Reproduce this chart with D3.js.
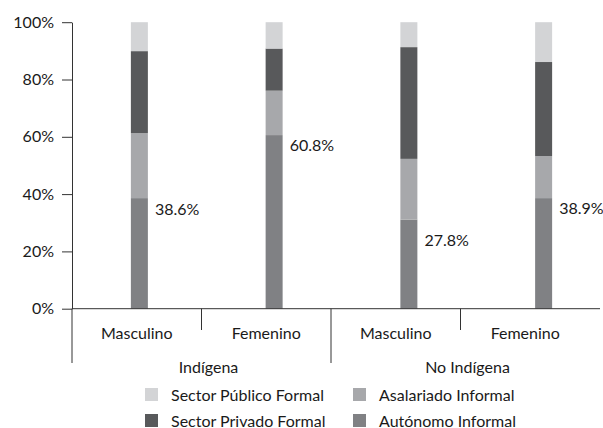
<!DOCTYPE html>
<html>
<head>
<meta charset="utf-8">
<script src="https://cdn.jsdelivr.net/npm/d3@7"></script>
<style>
  body { margin: 0; background: #fff; }
  text { font-family: Lato, "Noto Sans", sans-serif; fill: #1a1a1a; }
</style>
</head>
<body>
<div id="chart"></div>
<script>
// data (percent)
const groups = ["Indígena", "No Indígena"];
const sexes = ["Masculino", "Femenino"];
const autonomo   = [38.6, 60.6, 31.1, 38.6];
const asalariado = [22.7, 15.5, 21.2, 14.7];
const privado    = [28.6, 14.7, 39.0, 32.8];
const publico    = [10.1,  9.2,  8.7, 13.9];
const barLabels  = [38.6, 60.8, 27.8, 38.9];
const yTicks = [0, 20, 40, 60, 80, 100];

const seriesNames = ["Autónomo Informal", "Asalariado Informal", "Sector Privado Formal", "Sector Público Formal"];
const seriesKeys = ["autonomo", "asalariado", "privado", "publico"];
const colors = ["#808184", "#a7a8ab", "#58595b", "#d3d4d6"];

const width = 603, height = 428;
const fs = "16px";

// one row per bar
const rows = [];
groups.forEach((g, gi) => sexes.forEach((s, si) => {
  const i = gi * sexes.length + si;
  rows.push({ id: g + "|" + s, group: g, sex: s,
    autonomo: autonomo[i], asalariado: asalariado[i], privado: privado[i], publico: publico[i],
    label: barLabels[i] });
}));
const ids = rows.map(d => d.id);

const svg = d3.select("#chart").append("svg")
  .attr("width", width)
  .attr("height", height);

const y = d3.scaleLinear().domain([0, 100]).range([308.7, 22.2]);

// bars sit on a wider band than the category labels (plot runs off the right edge)
const xBar = d3.scaleBand().domain(ids).range([72, 611]);
const xLab = d3.scaleBand().domain(ids).range([72, 590]);
const xGroup = d3.scaleBand().domain(groups).range([72, 590]);

const color = d3.scaleOrdinal().domain(seriesKeys).range(colors);
const stack = d3.stack().keys(seriesKeys)(rows);

const barW = 17;

svg.append("g")
  .selectAll("g")
  .data(stack)
  .join("g")
    .attr("fill", d => color(d.key))
  .selectAll("rect")
  .data(d => d)
  .join("rect")
    .attr("x", d => xBar(d.data.id) + xBar.bandwidth() / 2 - barW / 2)
    .attr("y", d => y(d[1]))
    .attr("width", barW)
    .attr("height", d => y(d[0]) - y(d[1]));

// value labels
svg.append("g")
  .selectAll("text")
  .data(rows)
  .join("text")
    .attr("x", d => xBar(d.id) + xBar.bandwidth() / 2 + barW / 2 + 7)
    .attr("y", d => y(d.label) + 11)
    .attr("dy", "0.35em")
    .style("font-size", fs)
    .text(d => d.label.toFixed(1) + "%");

// y axis
const yAxis = svg.append("g")
  .attr("transform", "translate(72,0)")
  .call(d3.axisLeft(y).tickValues(yTicks).tickSize(10).tickSizeOuter(0).tickPadding(8)
    .tickFormat(d => d + "%"));
yAxis.select(".domain").attr("stroke", "#333");
yAxis.selectAll(".tick line").attr("stroke", "#333");
yAxis.selectAll("text").style("font-size", fs).attr("fill", "#1a1a1a");

// x axis baseline
svg.append("line")
  .attr("x1", 72).attr("x2", 600)
  .attr("y1", y(0)).attr("y2", y(0))
  .attr("stroke", "#333");

// short dividers between sexes, long ones between groups
const shortDiv = groups.map(g => xGroup(g) + xGroup.bandwidth() / 2);
const longDiv = groups.map(g => xGroup(g));

svg.append("g").selectAll("line")
  .data(shortDiv)
  .join("line")
    .attr("x1", d => d).attr("x2", d => d)
    .attr("y1", y(0)).attr("y2", 330)
    .attr("stroke", "#333");

svg.append("g").selectAll("line")
  .data(longDiv)
  .join("line")
    .attr("x1", d => d).attr("x2", d => d)
    .attr("y1", y(0)).attr("y2", 363)
    .attr("stroke", "#333");

// category labels
svg.append("g").selectAll("text")
  .data(rows)
  .join("text")
    .attr("x", d => xLab(d.id) + xLab.bandwidth() / 2)
    .attr("y", 333)
    .attr("dy", "0.35em")
    .attr("text-anchor", "middle")
    .style("font-size", fs)
    .text(d => d.sex);

svg.append("g").selectAll("text")
  .data(groups)
  .join("text")
    .attr("x", d => xGroup(d) + xGroup.bandwidth() / 2 + 7)
    .attr("y", 367)
    .attr("dy", "0.35em")
    .attr("text-anchor", "middle")
    .style("font-size", fs)
    .text(d => d);

// legend, two columns
const legendOrder = [3, 1, 2, 0];
const legend = svg.append("g").selectAll("g")
  .data(legendOrder)
  .join("g")
    .attr("transform", (d, i) => `translate(${i % 2 === 0 ? 145 : 353},${i < 2 ? 388 : 414})`);

legend.append("rect")
  .attr("width", 13).attr("height", 13)
  .attr("fill", d => colors[d]);

legend.append("text")
  .attr("x", 26).attr("y", 7)
  .attr("dy", "0.35em")
  .style("font-size", fs)
  .text(d => seriesNames[d]);
</script>
</body>
</html>
